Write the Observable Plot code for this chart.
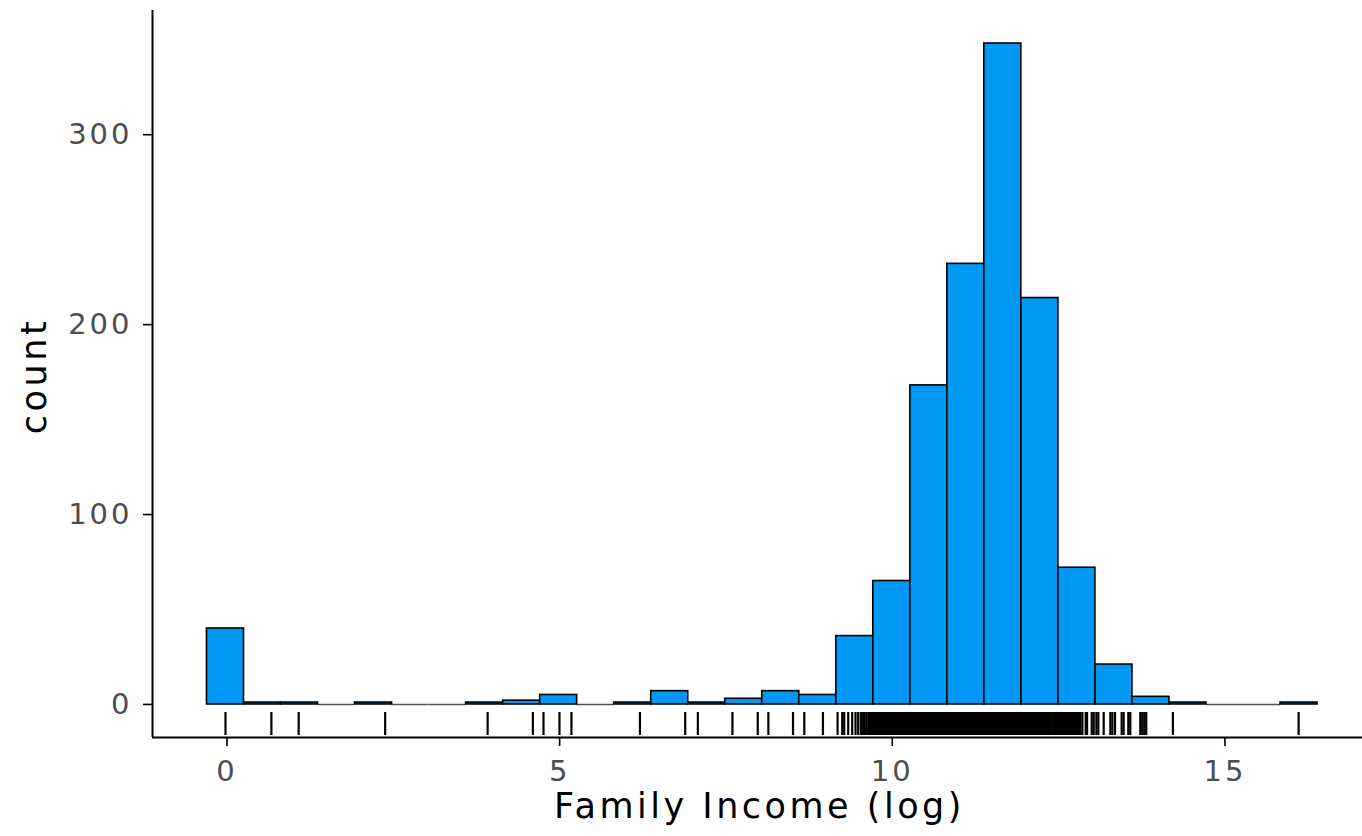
<!DOCTYPE html>
<html><head><meta charset="utf-8">
<script src="https://cdn.jsdelivr.net/npm/d3@7"></script>
<script src="https://cdn.jsdelivr.net/npm/@observablehq/plot@0.6"></script>
<style>
html,body{margin:0;padding:0;background:#fff;}
#chart svg{display:block;}
g[aria-label="x-axis tick label"] text, g[aria-label="y-axis tick label"] text{letter-spacing:3px;}
g[aria-label="text"] text{letter-spacing:3.5px;}
</style>
</head><body><div id="chart"></div>
<script>
// Histogram bins (centers) and counts
const binCenters = [0, 0.556, 1.113, 1.669, 2.226, 2.782, 3.338, 3.895, 4.451, 5.008,
  5.564, 6.120, 6.677, 7.233, 7.790, 8.346, 8.902, 9.459, 10.015, 10.572,
  11.128, 11.684, 12.241, 12.797, 13.354, 13.910, 14.466, 15.023, 15.579, 16.136];
const binCounts = [40, 1, 1, 0, 1, 0, 0, 1, 2, 5,
  0, 1, 7, 1, 3, 7, 5, 36, 65, 168,
  232, 348, 214, 72, 21, 4, 1, 0, 0, 1];
const binWidth = 0.5564;

// Rug values (observations along the x axis)
const rugValues = [0, 0.69, 1.10, 2.40, 3.94, 4.62, 4.78, 5.02, 5.20, 6.23, 6.91, 7.10, 7.62, 8.00, 8.16, 8.53, 8.70, 8.98,
  9.20, 9.27, 9.30, 9.36, 9.42, 9.47, 9.51, 9.55, 9.58, 9.60, 9.63, 9.66, 9.68,
  9.70, 9.72, 9.74, 9.76, 9.78, 9.80, 9.82, 9.84, 9.86, 9.88, 9.90, 9.92, 9.94, 9.96, 9.98,
  10.00, 10.02, 10.04, 10.06, 10.08, 10.10, 10.12, 10.14, 10.16, 10.18, 10.20, 10.22, 10.24, 10.26, 10.28,
  10.30, 10.32, 10.34, 10.36, 10.38, 10.40, 10.42, 10.44, 10.46, 10.48, 10.50, 10.52, 10.54, 10.56, 10.58,
  10.60, 10.62, 10.64, 10.66, 10.68, 10.70, 10.72, 10.74, 10.76, 10.78, 10.80, 10.82, 10.84, 10.86, 10.88,
  10.90, 10.92, 10.94, 10.96, 10.98, 11.00, 11.02, 11.04, 11.06, 11.08, 11.10, 11.12, 11.14, 11.16, 11.18,
  11.20, 11.22, 11.24, 11.26, 11.28, 11.30, 11.32, 11.34, 11.36, 11.38, 11.40, 11.42, 11.44, 11.46, 11.48,
  11.50, 11.52, 11.54, 11.56, 11.58, 11.60, 11.62, 11.64, 11.66, 11.68, 11.70, 11.72, 11.74, 11.76, 11.78,
  11.80, 11.82, 11.84, 11.86, 11.88, 11.90, 11.92, 11.94, 11.96, 11.98, 12.00, 12.02, 12.04, 12.06, 12.08,
  12.10, 12.12, 12.14, 12.16, 12.18, 12.20, 12.22, 12.24, 12.26, 12.28, 12.30, 12.32, 12.34, 12.36,
  12.38, 12.41, 12.44, 12.47, 12.50, 12.53, 12.56, 12.59, 12.62, 12.65, 12.68, 12.71, 12.74, 12.77, 12.80, 12.83, 12.85,
  12.88, 12.93, 12.95, 13.02, 13.05, 13.09, 13.12, 13.20, 13.30, 13.33, 13.37, 13.47, 13.50, 13.57, 13.60,
  13.75, 13.78, 13.81, 13.84, 14.24, 16.13];

const xTicks = [0, 5, 10, 15];
const yTicks = [0, 100, 200, 300];
const xLabel = "Family Income (log)";
const yLabel = "count";

const bins = binCenters.map((c, i) => ({center: c, count: binCounts[i]}));
const filled = bins.filter(d => d.count > 0);
const empty = bins.filter(d => d.count === 0);

const W = 1362, H = 836;
const mL = 152, mR = 0, mT = 10, mB = 99;
const xDomain = [-1.097, 17.09];
const yDomain = [-17.4, 365.4];
const font = "'DejaVu Sans', sans-serif";

const chart = Plot.plot({
  width: W, height: H,
  marginLeft: mL, marginRight: mR, marginTop: mT, marginBottom: mB,
  style: {fontFamily: font, background: "#fff"},
  x: {domain: xDomain},
  y: {domain: yDomain},
  marks: [
    Plot.ruleY(empty, {
      y: 0,
      x1: d => d.center - binWidth / 2,
      x2: d => d.center + binWidth / 2,
      stroke: "#555", strokeWidth: 1.6
    }),
    Plot.rectY(filled, {
      x1: d => d.center - binWidth / 2,
      x2: d => d.center + binWidth / 2,
      y: "count",
      fill: "#0098f5", stroke: "#000", strokeWidth: 1.6
    }),
    Plot.tickX(rugValues, {x: d => d, stroke: "#000", strokeWidth: 2.2, insetTop: 702, insetBottom: 2}),
    Plot.ruleY([yDomain[0]], {stroke: "#000", strokeWidth: 2}),
    Plot.ruleX([xDomain[0]], {stroke: "#000", strokeWidth: 2}),
    Plot.axisX(xTicks, {tickSize: 9, tickPadding: 14, dx: 1.5, stroke: "#000", strokeWidth: 1.6, fill: "#4d4d4d", fontSize: 29, label: null}),
    Plot.axisY(yTicks, {tickSize: 9, tickPadding: 11, stroke: "#000", strokeWidth: 1.6, fill: "#4d4d4d", fontSize: 29, label: null}),
    Plot.text([xLabel], {frameAnchor: "bottom", dy: 80, dx: 2, fontSize: 35, fill: "#000", text: d => d}),
    Plot.text([yLabel], {frameAnchor: "left", dx: -118, dy: 2, rotate: -90, textAnchor: "middle", fontSize: 35, fill: "#000", text: d => d})
  ]
});
document.getElementById("chart").appendChild(chart);
</script>
</body></html>
